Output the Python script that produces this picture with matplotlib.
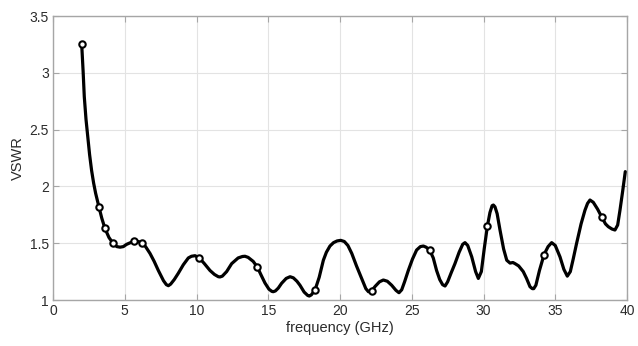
import matplotlib
matplotlib.use("Agg")
import matplotlib.pyplot as plt

# Measured VSWR trace (frequency in GHz)
freq = [2.00, 2.05, 2.10, 2.18, 2.30, 2.42, 2.55, 2.69, 2.83, 2.97, 3.20, 3.40, 3.62,
        3.90, 4.18, 4.45, 4.67, 4.90, 5.13, 5.40, 5.64, 5.92, 6.20, 6.45, 6.76,
        7.05, 7.34, 7.70, 7.90, 8.04, 8.20, 8.45, 8.73, 9.08, 9.43, 9.65, 9.90,
        10.20, 10.55, 10.94, 11.25, 11.52, 11.64, 11.80, 12.10, 12.45, 12.90, 13.20,
        13.38, 13.60, 13.95, 14.24, 14.50, 14.77, 15.05, 15.25, 15.35, 15.50, 15.70,
        15.93, 16.25, 16.52, 16.75, 17.00, 17.21, 17.50, 17.75, 17.86, 18.00, 18.26,
        18.55, 18.84, 19.05, 19.30, 19.55, 19.80, 20.05, 20.30, 20.55, 20.82, 21.15,
        21.51, 21.80, 21.98, 22.20, 22.45, 22.75, 23.02, 23.30, 23.60, 23.90, 24.11,
        24.30, 24.50, 24.76, 25.05, 25.34, 25.60, 25.81, 26.00, 26.25, 26.50, 26.73,
        26.95, 27.15, 27.32, 27.50, 27.75, 28.01, 28.30, 28.55, 28.71, 28.90, 29.18,
        29.45, 29.64, 29.85, 30.05, 30.27, 30.45, 30.60, 30.69, 30.80, 30.95, 31.15,
        31.40, 31.62, 31.85, 32.05, 32.20, 32.45, 32.77, 33.00, 33.24, 33.40, 33.50,
        33.65, 33.90, 34.22, 34.50, 34.75, 35.00, 35.33, 35.60, 35.84, 36.05, 36.25,
        36.49, 36.80, 37.07, 37.25, 37.42, 37.65, 37.95, 38.24, 38.50, 38.70, 38.95,
        39.16, 39.35, 39.51, 39.70, 39.88]
vswr = [3.25, 3.13, 3.01, 2.79, 2.59, 2.44, 2.28, 2.14, 2.03, 1.94, 1.82, 1.72, 1.63,
        1.55, 1.50, 1.47, 1.465, 1.47, 1.49, 1.505, 1.515, 1.515, 1.505, 1.47, 1.41,
        1.34, 1.26, 1.17, 1.135, 1.126, 1.14, 1.18, 1.235, 1.31, 1.37, 1.385, 1.39,
        1.37, 1.32, 1.26, 1.225, 1.205, 1.203, 1.21, 1.25, 1.32, 1.37, 1.383,
        1.385, 1.375, 1.34, 1.29, 1.22, 1.15, 1.095, 1.076, 1.073, 1.08, 1.105,
        1.147, 1.19, 1.205, 1.195, 1.165, 1.13, 1.07, 1.04, 1.035, 1.045, 1.088,
        1.20, 1.35, 1.42, 1.475, 1.505, 1.52, 1.525, 1.515, 1.48, 1.41, 1.30,
        1.19, 1.10, 1.073, 1.08, 1.12, 1.16, 1.176, 1.165, 1.13, 1.085, 1.064,
        1.09, 1.16, 1.26, 1.36, 1.44, 1.47, 1.475, 1.465, 1.44, 1.37, 1.26,
        1.18, 1.135, 1.123, 1.16, 1.24, 1.32, 1.42, 1.49, 1.505, 1.48, 1.38,
        1.25, 1.19, 1.25, 1.45, 1.65, 1.77, 1.83, 1.836, 1.82, 1.76, 1.616,
        1.45, 1.35, 1.325, 1.33, 1.32, 1.30, 1.25, 1.19, 1.117, 1.10, 1.10,
        1.13, 1.26, 1.40, 1.47, 1.505, 1.48, 1.38, 1.27, 1.21, 1.25, 1.36,
        1.50, 1.67, 1.79, 1.85, 1.88, 1.86, 1.80, 1.73, 1.67, 1.645, 1.625,
        1.616, 1.66, 1.79, 1.96, 2.13]

# Sampled points shown with circle markers
mark_freq = [2.00, 3.20, 3.62, 4.18, 5.64, 6.20, 10.20, 14.24, 18.26, 22.20,
             26.25, 30.27, 34.22, 38.24]
mark_vswr = [3.25, 1.82, 1.63, 1.50, 1.515, 1.505, 1.37, 1.29, 1.088, 1.08,
             1.44, 1.65, 1.40, 1.73]

xticks = [0, 5, 10, 15, 20, 25, 30, 35, 40]
yticks = [1, 1.5, 2, 2.5, 3, 3.5]
ytick_labels = ["1", "1.5", "2", "2.5", "3", "3.5"]

plt.rcParams["font.family"] = ["Liberation Sans", "DejaVu Sans"]

fig = plt.figure(figsize=(6.38, 3.46), dpi=100)
ax = fig.add_axes([53 / 638, 1 - 300 / 346, 574 / 638, 284 / 346])

ax.plot(freq, vswr, color="black", linewidth=2.3, solid_capstyle="round",
        solid_joinstyle="round", zorder=3)
ax.plot(mark_freq, mark_vswr, linestyle="none", marker="o", markersize=4.6,
        markerfacecolor="white", markeredgecolor="black", markeredgewidth=1.5,
        zorder=4)

ax.set_xlim(0, 40)
ax.set_ylim(1, 3.5)
ax.set_xticks(xticks)
ax.set_yticks(yticks)
ax.set_yticklabels(ytick_labels)

ax.grid(True, color="#e3e3e3", linewidth=0.8)
ax.set_axisbelow(True)
for s in ax.spines.values():
    s.set_color("#a6a6a6")
    s.set_linewidth(1.0)
ax.tick_params(direction="in", length=4, width=0.8, color="#a6a6a6",
               labelsize=10, labelcolor="#2b2b2b", top=True, right=True, pad=3)

ax.set_xlabel("frequency (GHz)", fontsize=10.5, color="#2b2b2b", labelpad=2)
ax.set_ylabel("VSWR", fontsize=10.5, color="#2b2b2b", labelpad=3)

fig.savefig("out.png", dpi=100)
